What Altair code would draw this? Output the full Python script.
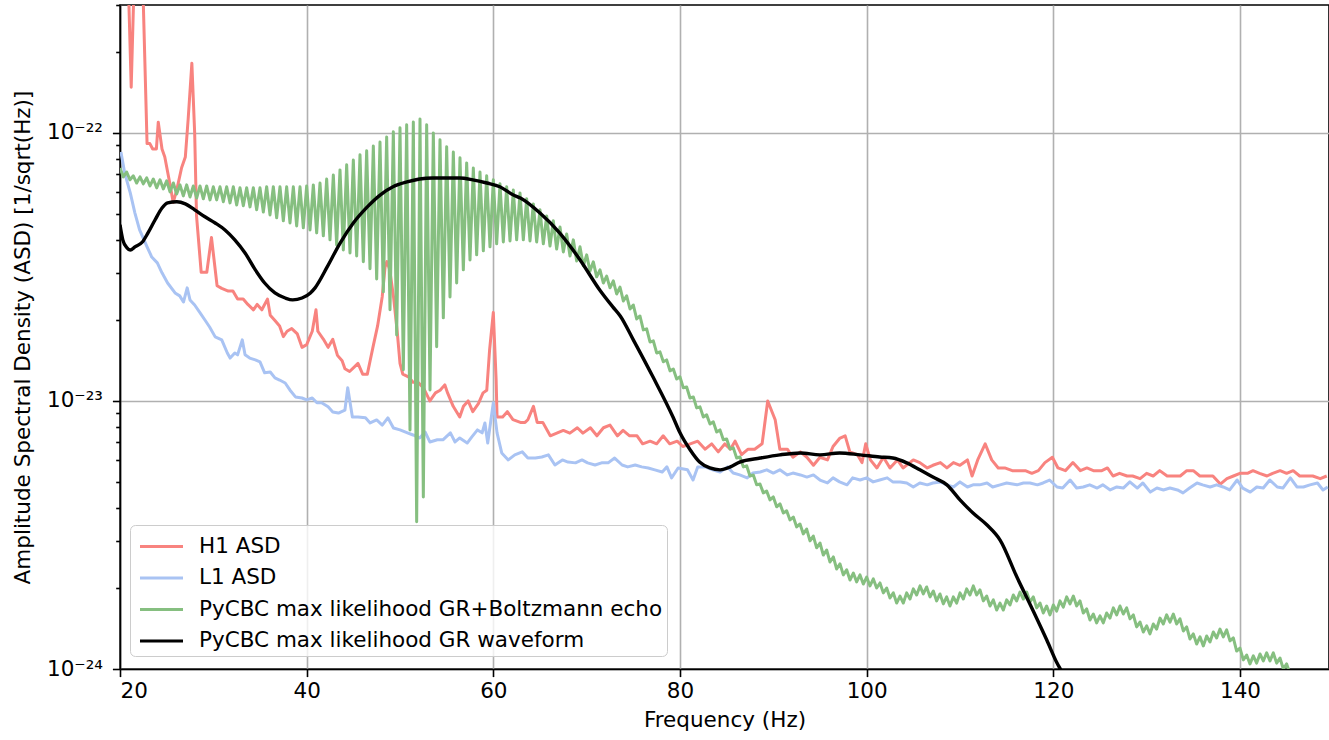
import altair as alt
import numpy as np
import pandas as pd

# ---- data (frequency [Hz], log10 ASD [1/sqrt(Hz)]) ----
h1_points = [
(20.0,-21.30),(20.9,-21.45),(21.2,-21.83),(21.5,-21.45),(21.9,-21.30),(22.5,-21.52),(22.9,-22.04),(23.2,-22.04),(23.5,-22.06),(23.9,-22.06),
(24.1,-21.96),(24.5,-22.06),(24.8,-22.09),(25.4,-22.20),(25.7,-22.26),(26.1,-22.21),(26.6,-22.13),(27.0,-22.09),(27.3,-21.95),(27.7,-21.74),
(28.0,-22.00),(28.2,-22.31),(28.7,-22.52),(29.3,-22.52),(29.8,-22.39),(30.4,-22.57),(30.9,-22.58),(31.6,-22.59),(32.1,-22.59),(32.6,-22.62),
(33.2,-22.62),(33.7,-22.64),(34.3,-22.66),(34.7,-22.64),(35.2,-22.66),(35.8,-22.62),(36.1,-22.68),(36.6,-22.70),(37.1,-22.72),(37.5,-22.76),
(37.9,-22.74),(38.4,-22.73),(39.0,-22.75),(39.5,-22.80),(40.0,-22.79),(40.6,-22.74),(41.0,-22.66),(41.2,-22.74),(41.8,-22.77),(42.3,-22.80),
(42.8,-22.77),(43.3,-22.83),(43.8,-22.85),(44.1,-22.88),(44.6,-22.89),(45.2,-22.87),(45.5,-22.86),(46.0,-22.90),(46.5,-22.90),(46.8,-22.85),
(47.1,-22.80),(47.6,-22.72),(48.1,-22.61),(48.4,-22.50),(48.6,-22.48),(48.9,-22.51),(49.3,-22.61),(49.7,-22.74),(50.0,-22.86),(50.3,-22.90),
(50.9,-22.91),(51.4,-22.93),(51.9,-22.93),(52.5,-22.95),(53.2,-23.00),(53.8,-22.97),(54.3,-22.96),(54.8,-22.94),(55.1,-22.97),(55.7,-23.02),
(56.4,-23.06),(56.8,-23.02),(57.3,-23.00),(57.8,-23.04),(58.4,-23.01),(58.9,-22.97),(59.3,-22.96),(59.6,-22.81),(60.0,-22.67),(60.3,-22.92),
(60.4,-23.06),(61.0,-23.06),(61.5,-23.04),(62.1,-23.07),(62.9,-23.08),(63.4,-23.08),(63.7,-23.07),(64.3,-23.02),(64.7,-23.08),(65.3,-23.08),
(66.1,-23.13),(66.8,-23.12),(67.5,-23.11),(68.2,-23.12),(69.0,-23.10),(69.6,-23.12),(70.4,-23.10),(71.1,-23.13),(71.8,-23.10),(72.5,-23.09),
(73.3,-23.13),(73.9,-23.11),(74.6,-23.13),(75.4,-23.13),(76.0,-23.16),(76.8,-23.15),(77.5,-23.16),(78.2,-23.13),(78.9,-23.16),(79.7,-23.15),
(80.3,-23.17),(81.1,-23.16),(81.9,-23.15),(82.7,-23.18),(83.4,-23.16),(84.1,-23.19),(84.8,-23.16),(85.4,-23.18),(85.9,-23.15),(86.6,-23.20),
(87.3,-23.18),(88.0,-23.18),(88.8,-23.16),(89.4,-23.00),(90.2,-23.07),(90.7,-23.18),(91.5,-23.18),(92.1,-23.21),(92.9,-23.19),(93.6,-23.21),
(94.3,-23.24),(95.0,-23.21),(95.8,-23.22),(96.4,-23.17),(97.1,-23.14),(97.7,-23.13),(98.2,-23.19),(99.0,-23.20),(99.5,-23.23),(99.9,-23.16),
(100.4,-23.22),(101.1,-23.25),(101.8,-23.21),(102.5,-23.25),(103.3,-23.22),(103.9,-23.25),(105.0,-23.22),(105.7,-23.23),(106.5,-23.25),(107.1,-23.24),
(107.9,-23.23),(108.6,-23.25),(109.3,-23.23),(110.0,-23.24),(110.8,-23.22),(111.3,-23.28),(111.9,-23.22),(112.7,-23.16),(113.4,-23.22),(114.1,-23.25),
(114.8,-23.25),(115.6,-23.26),(116.2,-23.26),(117.0,-23.26),(117.7,-23.27),(118.4,-23.26),(119.1,-23.23),(119.9,-23.21),(120.5,-23.25),(121.3,-23.26),
(122.1,-23.23),(122.9,-23.26),(123.6,-23.25),(124.3,-23.26),(125.2,-23.26),(125.8,-23.25),(126.4,-23.28),(127.1,-23.27),(127.9,-23.28),(128.5,-23.28),
(129.3,-23.29),(130.0,-23.27),(130.7,-23.28),(131.4,-23.26),(132.2,-23.28),(132.8,-23.28),(133.6,-23.28),(134.3,-23.26),(135.0,-23.26),(135.7,-23.28),
(136.5,-23.28),(137.1,-23.28),(137.9,-23.31),(138.6,-23.29),(139.3,-23.28),(140.0,-23.27),(140.8,-23.27),(141.4,-23.26),(142.1,-23.27),(142.9,-23.28),
(143.5,-23.27),(144.3,-23.26),(145.0,-23.27),(145.7,-23.26),(146.4,-23.28),(147.2,-23.28),(147.8,-23.28),(148.6,-23.29),(149.3,-23.28),
]

l1_points = [
(20.1,-22.071),(20.5,-22.149),(21.1,-22.224),(21.6,-22.299),(22.1,-22.362),(22.9,-22.425),(23.4,-22.463),(24.0,-22.485),(24.5,-22.522),(25.1,-22.560),
(25.9,-22.597),(26.4,-22.608),(26.8,-22.631),(27.2,-22.578),(27.5,-22.623),(28.0,-22.642),(28.6,-22.672),(29.1,-22.698),(29.6,-22.724),(30.2,-22.761),
(30.9,-22.772),(31.5,-22.821),(31.8,-22.840),(32.3,-22.821),(32.6,-22.828),(33.1,-22.772),(33.4,-22.828),(33.9,-22.840),(34.5,-22.847),(35.0,-22.854),
(35.5,-22.895),(36.1,-22.892),(36.6,-22.914),(37.1,-22.922),(37.7,-22.933),(38.2,-22.959),(38.8,-22.985),(39.5,-22.989),(40.0,-22.996),(40.6,-22.989),
(41.1,-23.007),(41.6,-23.007),(42.3,-23.022),(42.8,-23.041),(43.4,-23.045),(44.1,-23.034),(44.4,-22.951),(44.9,-23.060),(45.5,-23.060),(46.3,-23.063),
(46.8,-23.082),(47.5,-23.071),(48.1,-23.090),(48.7,-23.063),(49.3,-23.101),(50.0,-23.108),(50.8,-23.119),(51.4,-23.127),(52.1,-23.138),(52.7,-23.116),
(53.2,-23.153),(54.0,-23.145),(54.6,-23.145),(55.4,-23.119),(55.9,-23.153),(56.4,-23.138),(57.2,-23.157),(57.7,-23.134),(58.3,-23.108),(58.8,-23.119),
(59.1,-23.082),(59.4,-23.157),(60.0,-23.007),(60.4,-23.119),(60.9,-23.194),(61.6,-23.220),(62.3,-23.201),(63.1,-23.190),(63.7,-23.213),(64.5,-23.213),
(65.2,-23.209),(65.9,-23.201),(66.6,-23.239),(67.4,-23.220),(68.0,-23.228),(68.8,-23.231),(69.5,-23.220),(70.1,-23.231),(70.9,-23.239),(71.6,-23.231),
(72.3,-23.231),(73.0,-23.213),(73.8,-23.239),(74.4,-23.246),(75.2,-23.239),(75.9,-23.246),(76.6,-23.250),(77.3,-23.257),(78.1,-23.265),(78.6,-23.246),
(79.1,-23.287),(79.8,-23.250),(80.8,-23.257),(81.4,-23.295),(81.9,-23.246),(82.7,-23.246),(83.5,-23.257),(84.3,-23.265),(85.1,-23.246),(85.7,-23.269),
(86.4,-23.276),(87.2,-23.287),(87.8,-23.269),(88.6,-23.265),(89.3,-23.257),(90.0,-23.269),(90.7,-23.257),(91.5,-23.276),(92.1,-23.269),(92.9,-23.276),
(93.6,-23.284),(94.3,-23.276),(95.0,-23.295),(95.8,-23.306),(96.4,-23.287),(97.1,-23.302),(97.9,-23.313),(98.5,-23.287),(99.3,-23.295),(100.0,-23.287),
(100.7,-23.302),(101.4,-23.295),(102.2,-23.287),(102.8,-23.302),(103.6,-23.302),(104.3,-23.306),(105.0,-23.321),(105.7,-23.306),(106.5,-23.313),(107.1,-23.306),
(107.9,-23.302),(108.6,-23.313),(109.3,-23.321),(110.0,-23.302),(110.8,-23.321),(111.4,-23.313),(112.1,-23.313),(112.9,-23.306),(113.5,-23.321),(114.3,-23.313),
(115.0,-23.306),(116.1,-23.313),(116.8,-23.306),(117.5,-23.306),(118.3,-23.313),(118.9,-23.306),(119.6,-23.295),(120.4,-23.321),(121.0,-23.325),(121.8,-23.295),
(122.5,-23.325),(123.2,-23.321),(123.9,-23.313),(124.7,-23.325),(125.3,-23.313),(126.1,-23.332),(126.8,-23.321),(127.5,-23.325),(128.2,-23.302),(129.0,-23.325),
(129.6,-23.306),(130.4,-23.340),(131.1,-23.325),(131.8,-23.332),(132.5,-23.325),(133.3,-23.332),(133.9,-23.343),(134.6,-23.325),(135.4,-23.306),(136.0,-23.313),
(136.8,-23.321),(137.5,-23.313),(138.2,-23.321),(138.9,-23.332),(139.7,-23.295),(140.3,-23.325),(141.1,-23.340),(141.8,-23.321),(142.5,-23.325),(143.2,-23.295),
(144.0,-23.321),(144.6,-23.325),(145.4,-23.287),(146.1,-23.321),(146.8,-23.321),(147.5,-23.313),(148.3,-23.306),(148.9,-23.332),(149.4,-23.321),
]

gr_points = [
(20.0,-22.343),(20.3,-22.399),(20.75,-22.429),(21.1,-22.437),(21.6,-22.425),(22.4,-22.407),(23.0,-22.373),(23.75,-22.325),(24.5,-22.280),(25.1,-22.261),
(26.1,-22.257),(27.0,-22.265),(28.0,-22.287),(29.1,-22.313),(30.2,-22.336),(31.25,-22.362),(32.3,-22.399),(33.4,-22.448),(34.5,-22.511),(35.5,-22.560),
(36.6,-22.597),(37.7,-22.616),(38.5,-22.623),(39.5,-22.616),(40.4,-22.597),(40.9,-22.578),(42.2,-22.500),(43.6,-22.410),(45.0,-22.336),(46.5,-22.276),
(47.9,-22.231),(49.25,-22.201),(50.75,-22.183),(52.1,-22.172),(53.5,-22.168),(55.0,-22.168),(56.4,-22.168),(57.8,-22.175),(59.3,-22.187),(60.7,-22.201),
(62.1,-22.231),(62.9,-22.243),(65.0,-22.299),(67.1,-22.373),(69.3,-22.474),(71.4,-22.586),(72.8,-22.649),(73.6,-22.683),(75.0,-22.772),(77.1,-22.910),
(79.25,-23.060),(80.0,-23.119),(81.1,-23.183),(82.1,-23.228),(83.2,-23.250),(84.3,-23.257),(85.4,-23.246),(86.4,-23.228),(88.6,-23.213),(90.7,-23.201),
(92.9,-23.194),(95.0,-23.201),(97.1,-23.194),(99.3,-23.201),(101.4,-23.209),(102.8,-23.213),(104.3,-23.231),(105.7,-23.257),(107.1,-23.284),(108.6,-23.313),
(110.0,-23.369),(111.4,-23.418),(112.9,-23.463),(114.3,-23.519),(116.1,-23.657),(117.8,-23.780),(119.3,-23.892),(120.4,-23.978),(120.9,-24.011),(121.8,-24.116),
]

# GR+Boltzmann echo: oscillating curve, successive maxima and minima (log10 ASD)
echo_start_hz = 20.0
echo_period_hz = 0.7143
echo_peak_log10 = [
-22.131,-22.146,-22.160,-22.164,-22.168,-22.172,-22.175,-22.179,-22.187,-22.194,
-22.194,-22.198,-22.198,-22.198,-22.201,-22.201,-22.201,-22.201,-22.205,-22.205,
-22.205,-22.205,-22.201,-22.201,-22.201,-22.201,-22.201,-22.201,-22.198,-22.194,
-22.187,-22.172,-22.157,-22.138,-22.119,-22.101,-22.082,-22.067,-22.049,-22.034,
-22.015,-21.996,-21.981,-21.970,-21.959,-21.948,-21.970,-22.000,-22.026,-22.052,
-22.071,-22.093,-22.112,-22.131,-22.146,-22.160,-22.175,-22.190,-22.201,-22.213,
-22.224,-22.246,-22.265,-22.287,-22.310,-22.328,-22.351,-22.377,-22.399,-22.425,
-22.455,-22.481,-22.511,-22.534,-22.552,-22.575,-22.608,-22.642,-22.683,-22.731,
-22.776,-22.817,-22.847,-22.881,-22.910,-22.948,-22.985,-23.022,-23.052,-23.078,
-23.108,-23.142,-23.175,-23.209,-23.242,-23.276,-23.310,-23.336,-23.358,-23.384,
-23.410,-23.433,-23.459,-23.478,-23.504,-23.530,-23.556,-23.582,-23.608,-23.630,
-23.642,-23.649,-23.657,-23.664,-23.679,-23.698,-23.716,-23.728,-23.716,-23.701,
-23.690,-23.694,-23.709,-23.720,-23.731,-23.731,-23.716,-23.701,-23.690,-23.705,
-23.728,-23.742,-23.754,-23.742,-23.724,-23.713,-23.713,-23.731,-23.754,-23.765,
-23.761,-23.746,-23.731,-23.728,-23.746,-23.776,-23.795,-23.802,-23.791,-23.772,
-23.765,-23.772,-23.798,-23.825,-23.839,-23.832,-23.810,-23.798,-23.795,-23.813,
-23.843,-23.869,-23.880,-23.877,-23.862,-23.851,-23.854,-23.884,-23.922,-23.948,
-23.951,-23.944,-23.940,-23.940,-23.959,-23.981,-24.007,-24.078,
]
echo_trough_log10 = [
-22.164,-22.175,-22.187,-22.190,-22.198,-22.205,-22.209,-22.220,-22.228,-22.235,
-22.239,-22.243,-22.246,-22.250,-22.250,-22.257,-22.261,-22.269,-22.272,-22.276,
-22.287,-22.295,-22.306,-22.317,-22.328,-22.336,-22.347,-22.354,-22.362,-22.373,
-22.384,-22.399,-22.418,-22.437,-22.448,-22.459,-22.481,-22.507,-22.545,-22.593,
-22.660,-22.754,-22.884,-23.108,-23.451,-23.358,-22.959,-22.798,-22.690,-22.612,
-22.560,-22.511,-22.474,-22.455,-22.440,-22.425,-22.414,-22.407,-22.403,-22.399,
-22.399,-22.403,-22.407,-22.414,-22.422,-22.433,-22.444,-22.459,-22.478,-22.496,
-22.515,-22.537,-22.560,-22.578,-22.601,-22.627,-22.657,-22.694,-22.735,-22.780,
-22.821,-22.854,-22.888,-22.918,-22.951,-22.989,-23.026,-23.060,-23.086,-23.116,
-23.145,-23.179,-23.213,-23.246,-23.280,-23.313,-23.343,-23.369,-23.395,-23.418,
-23.444,-23.470,-23.496,-23.522,-23.548,-23.575,-23.601,-23.627,-23.649,-23.668,
-23.675,-23.683,-23.690,-23.698,-23.716,-23.735,-23.754,-23.754,-23.739,-23.724,
-23.720,-23.731,-23.746,-23.757,-23.765,-23.754,-23.739,-23.724,-23.724,-23.746,
-23.765,-23.780,-23.780,-23.761,-23.746,-23.739,-23.750,-23.772,-23.791,-23.798,
-23.784,-23.769,-23.757,-23.765,-23.791,-23.817,-23.828,-23.828,-23.810,-23.798,
-23.795,-23.813,-23.843,-23.862,-23.869,-23.851,-23.832,-23.825,-23.832,-23.858,
-23.888,-23.907,-23.914,-23.899,-23.884,-23.880,-23.895,-23.933,-23.966,-23.981,
-23.978,-23.970,-23.970,-23.978,-24.000,-24.018,-24.056,-24.116,
]

series_names = ["H1 ASD", "L1 ASD", "PyCBC max likelihood GR+Boltzmann echo",
                "PyCBC max likelihood GR waveform"]
series_colors = ["#F8837F", "#A9C3F3", "#86BF80", "#000000"]
x_ticks = [20, 40, 60, 80, 100, 120, 140]
y_major = [1e-24, 1e-23, 1e-22]
y_minor = [m * 10.0 ** p for p in (-24, -23) for m in range(2, 10)] + [2e-22, 3e-22]

# ---- tables ----
def from_pairs(points, name):
    df = pd.DataFrame(points, columns=["f", "lg"])
    df["asd"] = 10.0 ** df["lg"]
    df["series"] = name
    return df

h1 = from_pairs(h1_points, series_names[0])
l1 = from_pairs(l1_points, series_names[1])
gr = from_pairs(gr_points, series_names[3])
k = np.arange(len(echo_peak_log10))
echo = pd.concat([
    pd.DataFrame({"f": echo_start_hz + k * echo_period_hz, "lg": echo_peak_log10}),
    pd.DataFrame({"f": echo_start_hz + (k + 0.5) * echo_period_hz, "lg": echo_trough_log10}),
]).sort_values("f")
echo["asd"] = 10.0 ** echo["lg"]
echo["series"] = series_names[2]

FONT = "DejaVu Sans"
FS = 21.5

x_enc = alt.X("f:Q", scale=alt.Scale(domain=[20, 149.54], nice=False, zero=False),
              axis=alt.Axis(values=x_ticks, title="Frequency (Hz)", format="d", grid=True,
                            tickSize=7.6, labelPadding=4, titlePadding=7))
y_scale = alt.Scale(type="log", domain=[1e-24, 3.0e-22], nice=False)

legend = alt.Legend(orient="none", legendX=10, legendY=520, title=None,
                    symbolType="M-1.36,0H1.36", symbolSize=1000, symbolStrokeWidth=3.2,
                    symbolOffset=10, labelOffset=20, labelFontSize=FS, labelFont=FONT,
                    labelColor="black", labelLimit=800, padding=4, rowPadding=3.5,
                    fillColor="rgba(255,255,255,0.8)", strokeColor="#cccccc",
                    cornerRadius=5)
color_enc = alt.Color("series:N", scale=alt.Scale(domain=series_names, range=series_colors),
                      legend=legend)

major_axis = alt.Axis(values=y_major, orient="left", grid=True, tickSize=7.6, labelPadding=10,
                      title="Amplitude Spectral Density (ASD) [1/sqrt(Hz)]", titlePadding=12,
                      labelExpr="datum.value < 3e-24 ? '10⁻²⁴' : (datum.value < 3e-23 ? '10⁻²³' : '10⁻²²')")
minor_axis = alt.Axis(values=y_minor, orient="left", grid=False, labels=False, tickSize=4.3,
                      domain=False, title="")

def line(df, width, axis, interp="linear"):
    return alt.Chart(df).mark_line(strokeWidth=width, clip=True, strokeJoin="round",
                                   interpolate=interp).encode(
        x=x_enc,
        y=alt.Y("asd:Q", scale=y_scale, axis=axis),
        color=color_enc,
    )

red = line(h1, 3.0, minor_axis)
blue = line(l1, 3.0, None)
green = line(echo, 3.0, None)
black = line(gr, 3.4, major_axis, "monotone")

chart = alt.layer(red, blue, green, black).resolve_axis(y="independent").properties(
    width=1209, height=664,
    padding={"left": 120, "top": 5, "right": 0, "bottom": 66},
    autosize=alt.AutoSizeParams(type="none"),
).configure_view(stroke="black", strokeWidth=1.6).configure_axis(
    labelFont=FONT, titleFont=FONT, labelFontSize=FS, titleFontSize=FS,
    labelColor="black", titleColor="black", titleFontWeight="normal",
    domainColor="black", domainWidth=1.6, tickColor="black", tickWidth=1.6,
    gridColor="#b0b0b0", gridWidth=1.6,
)

chart.save("out.html", embed_options={"renderer": "svg", "actions": False})
